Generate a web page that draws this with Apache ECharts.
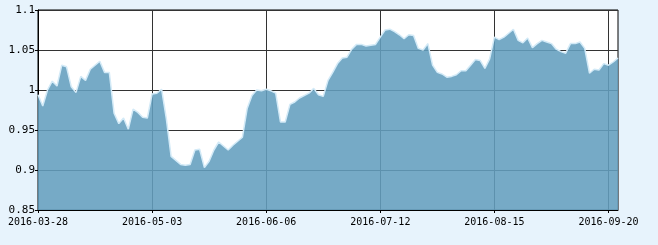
<!DOCTYPE html>
<html>
<head>
<meta charset="utf-8">
<script src="https://cdn.jsdelivr.net/npm/echarts@6/dist/echarts.min.js"></script>
<style>
html,body{margin:0;padding:0;background:#e7f3fc;}
#c{width:658px;height:245px;}
</style>
</head>
<body>
<div id="c"></div>
<script>
const dates = [
'2016-03-28','2016-03-29','2016-03-30','2016-03-31','2016-04-01',
'2016-04-05','2016-04-06','2016-04-07','2016-04-08',
'2016-04-11','2016-04-12','2016-04-13','2016-04-14','2016-04-15',
'2016-04-18','2016-04-19','2016-04-20','2016-04-21','2016-04-22',
'2016-04-25','2016-04-26','2016-04-27','2016-04-28','2016-04-29',
'2016-05-03','2016-05-04','2016-05-05','2016-05-06',
'2016-05-09','2016-05-10','2016-05-11','2016-05-12','2016-05-13',
'2016-05-16','2016-05-17','2016-05-18','2016-05-19','2016-05-20',
'2016-05-23','2016-05-24','2016-05-25','2016-05-26','2016-05-27',
'2016-05-30','2016-05-31','2016-06-01','2016-06-02','2016-06-03',
'2016-06-06','2016-06-07','2016-06-08',
'2016-06-13','2016-06-14','2016-06-15','2016-06-16','2016-06-17',
'2016-06-20','2016-06-21','2016-06-22','2016-06-23','2016-06-24',
'2016-06-27','2016-06-28','2016-06-29','2016-06-30','2016-07-01',
'2016-07-04','2016-07-05','2016-07-06','2016-07-07','2016-07-08',
'2016-07-11','2016-07-12','2016-07-13','2016-07-14','2016-07-15',
'2016-07-18','2016-07-19','2016-07-20','2016-07-21','2016-07-22',
'2016-07-25','2016-07-26','2016-07-27','2016-07-28','2016-07-29',
'2016-08-01','2016-08-02','2016-08-03','2016-08-04','2016-08-05',
'2016-08-08','2016-08-09','2016-08-10','2016-08-11','2016-08-12',
'2016-08-15','2016-08-16','2016-08-17','2016-08-18','2016-08-19',
'2016-08-22','2016-08-23','2016-08-24','2016-08-25','2016-08-26',
'2016-08-29','2016-08-30','2016-08-31','2016-09-01','2016-09-02',
'2016-09-05','2016-09-06','2016-09-07','2016-09-08','2016-09-09',
'2016-09-12','2016-09-13','2016-09-14',
'2016-09-19','2016-09-20','2016-09-21','2016-09-22'
];
const values = [
0.994,0.980,1.000,1.011,1.005,1.031,1.029,1.004,0.997,1.017,
1.012,1.026,1.031,1.036,1.022,1.022,0.971,0.958,0.965,0.951,
0.976,0.972,0.966,0.965,0.995,0.996,1.001,0.964,0.917,0.912,
0.907,0.906,0.907,0.925,0.926,0.903,0.911,0.925,0.935,0.930,
0.925,0.931,0.936,0.941,0.977,0.993,1.000,0.999,1.001,0.999,
0.996,0.960,0.960,0.982,0.985,0.990,0.993,0.996,1.002,0.994,
0.992,1.012,1.022,1.033,1.040,1.041,1.051,1.057,1.057,1.055,
1.056,1.057,1.066,1.075,1.076,1.073,1.069,1.064,1.069,1.068,
1.052,1.050,1.058,1.031,1.022,1.020,1.016,1.017,1.019,1.024,
1.024,1.031,1.038,1.037,1.027,1.039,1.066,1.063,1.066,1.071,
1.076,1.062,1.059,1.065,1.053,1.058,1.062,1.060,1.058,1.051,
1.048,1.046,1.058,1.058,1.060,1.052,1.021,1.026,1.025,1.033,
1.031,1.035,1.040
];
const yMin = 0.85, yMax = 1.1, yStep = 0.05;

const chart = echarts.init(document.getElementById('c'), null, {renderer:'canvas'});
const font = 'DejaVu Sans Mono';
chart.setOption({
  backgroundColor: '#e7f3fc',
  animation: false,
  grid: {left: 38, right: 40, top: 10, bottom: 35, show: true, backgroundColor: '#ffffff', borderColor: '#000', borderWidth: 1},
  xAxis: {
    type: 'category', data: dates, boundaryGap: false,
    axisLine: {lineStyle: {color: '#000', width: 1}},
    axisTick: {show: true, interval: 23, length: 3, lineStyle: {color: '#000'}},
    axisLabel: {interval: 23, color: '#000', fontFamily: font, fontSize: 10, margin: 7},
    splitLine: {show: true, interval: 23, lineStyle: {color: '#333', width: 1}}
  },
  yAxis: {
    type: 'value', min: yMin, max: yMax, interval: yStep,
    axisLine: {show: true, lineStyle: {color: '#000', width: 1}},
    axisTick: {show: true, length: 3, lineStyle: {color: '#000'}},
    axisLabel: {color: '#000', fontFamily: font, fontSize: 11, margin: 3,
      formatter: v => String(+v.toFixed(2))},
    splitLine: {show: true, lineStyle: {color: '#333', width: 1}}
  },
  series: [{
    type: 'line', data: values, symbol: 'none', smooth: false,
    lineStyle: {color: '#d3eaf7', width: 1.5},
    areaStyle: {color: 'rgba(99,158,190,0.88)', origin: 'start', opacity: 1}
  }]
});
</script>
</body>
</html>
